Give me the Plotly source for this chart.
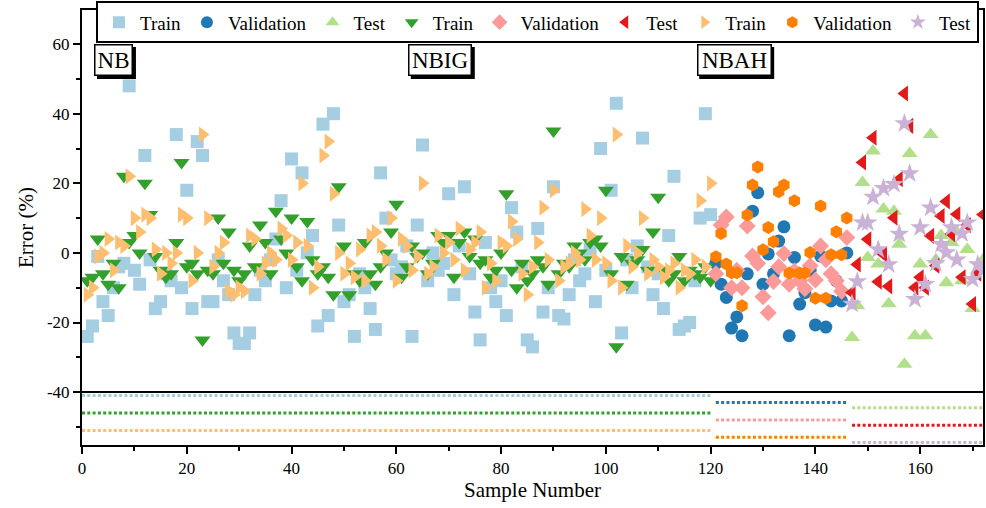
import plotly.graph_objects as go

# ---------------- data ----------------
train_x = list(range(1, 121))
val_x = list(range(121, 147))
test_x = list(range(147, 173))

nb_train = [-24, -21, -1, -14, -18, -10, -4, -3, 48, -5,
            -9, 28, -2, -16, -14, -6, -8, 34, -10, 18,
            -16, 32, 28, -14, -14, -2, -8, -12, -23, -26,
            -26, -23, -12, -5, -8, -2, 4, 15, -10, 27,
            -5, 23, 0, 5, -21, 37, -18, 40, 8, -14,
            -12, -24, -6, -10, -16, -22, 23, 10, -2, -6,
            -4, 2, -24, 8, 31, -8, 0, -5, -3, 17,
            -12, 2, 19, -6, -17, -25, 3, -10, -14, -8,
            -18, 13, 6, -4, -25, -27, 7, -17, -10, 19,
            -18, -19, -12, -2, -8, -6, 1, -14, 30, -5,
            18, 43, -23, -2, -10, 2, 33, -4, -12, -6,
            -16, 5, 22, -22, -21, -20, -8, 10, 40, 11]
nb_val = [-3, -9, -12.8, -21.6, -18.4, -23.8, -6, 12, 17.3, -9,
          -0.3, -6, 3.4, 7.5, -23.8, -1.3, -14.7, -11.4, -5, -20.7,
          -0.9, -21.3, -13.8, -8, -13.8, 0]
nb_test = [-24.3, -15.2, 20.2, -1.3, 29.3, -3.2, 12.6, -14.6, 12, 2.5,
           -32, 28.6, -23.8, -3.2, -23.8, 34, -2, 5, -8.6, 3,
           6, -8, 1, -16, -5, -2]

nbig_train = [-8, -7, 4, -6, -9, -3, -10, 22, 3, 5,
              0, 20, 11, -1, -5, -7, -6, 3, 26, -4,
              -3, -6, -25, -5, -6, 10, -3, 6, -5, -8,
              -6, 2, -4, 8, 3, -6, 12, 4, 0, 10,
              -4, -8, 9, -2, -6, -4, -7, -12, 19, 2,
              -12, -6, -8, 3, -6, -9, -4, 0, 6, 14,
              -7, -4, 2, -1, 0, -6, -3, 5, 3, 5,
              -7, 3, 6, -1, 4, -3, -2, -7, -5, 0,
              17, -5, -10, -3, -8, -6, -2, -4, -9, 35,
              -6, -3, -4, 2, 0, -2, 3, 4, 2, 18,
              -6, -27, -1, -9, -3, -2, 1, -5, 6, 16,
              -5, -8, -6, -1, -8, -5, -6, -7, -4, -8]
nbig_val = [-6, 8, 10.3, -10, -5, -10, 7.7, -0.9, -3, -12.6,
            -17.2, -8.2, -4, -0.2, -9, -5.2, -8, -10.3, -3.7, -7.8,
            2, -2, -6, -8, -11, 4.4]
nbig_test = [-11.4, -3.3, 26, 3.9, 33.1, -8.3, -0.4, -9.6, 10.1, 21.2,
             45.8, 36.5, -10, -7, -10, 4.9, -3.7, 10.6, 14.8, 5.4,
             11.1, -7, 8, -14.7, -6, 11]

nbah_train = [-12, -10, -1, 0, 4, -5, 3, 2, 22, 10,
              6, 11, 10, 1, -6, 0, -3, 0, 11, 10,
              -8, 0, 34, 10, -4, 0, 3, -11, -12, -10,
              -11, 5, 4, -6, -3, 0, -2, 7, 5, -2,
              3, 20, 2, -10, -4, 28, 32, 17, 0, -6,
              -3, -7, 1, -8, 5, 6, 2, -2, 10, -8,
              4, 2, -5, -1, 20, -6, -4, 5, 0, 3,
              -2, 7, -5, 1, 3, 6, -10, -3, -8, 3,
              2, 9, 4, -6, -12, -4, 3, 13, -2, 18,
              -8, -4, -3, 0, -2, 12.6, 5, -2, 10, -3,
              -8, 34, -10, 2, -4, 0, 10, -6, -2, -4,
              -7, -5, -3, -10, -5, -6, -2, 15, -4, 20]
nbah_val = [-1.1, 5.6, -3.2, -5.7, -5.7, -15.2, 10.9, 19.5, 24.7, 0.9,
            7.3, 3.2, 17.6, 19.5, -5.8, 15, -5.8, -5.8, 0.1, -13,
            13.5, -13, -0.5, 6.1, -0.5, 10]
nbah_test = [-14.7, -8.2, 8.7, 8.7, 16.1, 1, 18.6, -3.3, 19.7, 5.4,
             37.2, 22.8, -13.3, 7.3, -9, 13, -3, 2.5, 0.1, 7.3,
             -2, 5.6, 8.7, -7.6, -3.3, -5]

# range indicator levels (split spans) at the bottom
split_spans = {"train": (0, 120), "val": (121, 146.3), "test": (147, 172)}
indicator_levels = {
    ("NB", "train"): -41, ("NBIG", "train"): -46, ("NBAH", "train"): -51,
    ("NB", "val"): -43, ("NBIG", "val"): -48, ("NBAH", "val"): -53,
    ("NB", "test"): -44.5, ("NBIG", "test"): -49.5, ("NBAH", "test"): -54.5,
}
separator_level = -40

x_ticks = [0, 20, 40, 60, 80, 100, 120, 140, 160]
y_ticks = [-40, -20, 0, 20, 40, 60]

# ---------------- styling ----------------
FONT = "Liberation Serif, DejaVu Serif, Times New Roman, serif"
series = [
    ("NB", "train", "Train", train_x, nb_train, "#A6CEE3", "square"),
    ("NB", "val", "Validation", val_x, nb_val, "#1F78B4", "circle"),
    ("NB", "test", "Test", test_x, nb_test, "#B2DF8A", "triangle-up"),
    ("NBIG", "train", "Train", train_x, nbig_train, "#33A02C", "triangle-down"),
    ("NBIG", "val", "Validation", val_x, nbig_val, "#FB9A99", "diamond"),
    ("NBIG", "test", "Test", test_x, nbig_test, "#E31A1C", "triangle-left"),
    ("NBAH", "train", "Train", train_x, nbah_train, "#FDBF6F", "triangle-right"),
    ("NBAH", "val", "Validation", val_x, nbah_val, "#FF7F00", "hexagon"),
    ("NBAH", "test", "Test", test_x, nbah_test, "#CAB2D6", "star"),
]

fig = go.Figure()

# separator line
fig.add_trace(go.Scatter(x=[0, 172], y=[separator_level, separator_level], mode="lines",
                         line=dict(color="black", width=2), showlegend=False, hoverinfo="skip"))

for model, split, label, xs, ys, color, sym in series:
    x0, x1 = split_spans[split]
    lvl = indicator_levels[(model, split)]
    fig.add_trace(go.Scatter(x=[x0, x1], y=[lvl, lvl], mode="lines",
                             line=dict(color=color, width=3, dash="3px,2.3px"),
                             showlegend=False, hoverinfo="skip"))

for model, split, label, xs, ys, color, sym in series:
    size = 13
    if sym in ("star",):
        size = 15
    if sym.startswith("triangle"):
        size = 14
    fig.add_trace(go.Scatter(x=xs, y=ys, mode="markers", name=label,
                             marker=dict(symbol=sym, size=size, color=color,
                                         line=dict(width=0))))

# model label boxes with drop shadow
label_y = 55.3
labels = [("NB", 6.1, 32), ("NBIG", 68.4, 57), ("NBAH", 124.5, 68)]
box_h = 25
pad, bw = 2, 1.5
for txt, xc, w in labels:
    tw = w + 2 * pad + 2 * bw
    th = box_h + 2 * pad + 2 * bw
    fig.add_shape(type="rect", xref="x", yref="y", xsizemode="pixel", ysizemode="pixel",
                  xanchor=xc, yanchor=label_y,
                  x0=-tw / 2 + 2.5, x1=tw / 2 + 2.5, y0=-th / 2 - 2.5, y1=th / 2 - 2.5,
                  fillcolor="black", line=dict(width=0), layer="above")
    fig.add_annotation(x=xc, y=label_y, text=txt, showarrow=False, width=w, height=box_h,
                       font=dict(family=FONT, size=23, color="black"),
                       bgcolor="white", bordercolor="black", borderwidth=bw, borderpad=pad)

axis_common = dict(showline=True, linecolor="black", linewidth=2, mirror=True,
                   ticks="outside", ticklen=7, tickwidth=2, tickcolor="black",
                   showgrid=False, zeroline=False,
                   tickfont=dict(family=FONT, size=17, color="black"))

fig.update_xaxes(range=[0, 172], tickvals=x_ticks, ticktext=[str(v) for v in x_ticks],
                 minor=dict(ticks="outside", ticklen=4, tickwidth=2, tickcolor="black", dtick=10),
                 title=dict(text="Sample Number", font=dict(family=FONT, size=21, color="black"),
                            standoff=4),
                 **axis_common)
fig.update_yaxes(range=[-55.2, 69.8], tickvals=y_ticks, ticktext=[str(v) for v in y_ticks],
                 minor=dict(ticks="outside", ticklen=4, tickwidth=2, tickcolor="black", dtick=10),
                 title=dict(text="Error (%)", font=dict(family=FONT, size=21, color="black"),
                            standoff=8),
                 **axis_common)

fig.update_layout(
    width=986, height=508,
    margin=dict(l=82, r=1, t=10, b=63),
    paper_bgcolor="white", plot_bgcolor="white",
    font=dict(family=FONT, color="black"),
    legend=dict(orientation="h", x=0.0155, y=1.02, xanchor="left", yanchor="top",
                font=dict(family=FONT, size=19, color="black"),
                bgcolor="white", bordercolor="black", borderwidth=2,
                tracegroupgap=0, itemwidth=32, itemsizing="constant"),
)

fig.write_html("out.html")
